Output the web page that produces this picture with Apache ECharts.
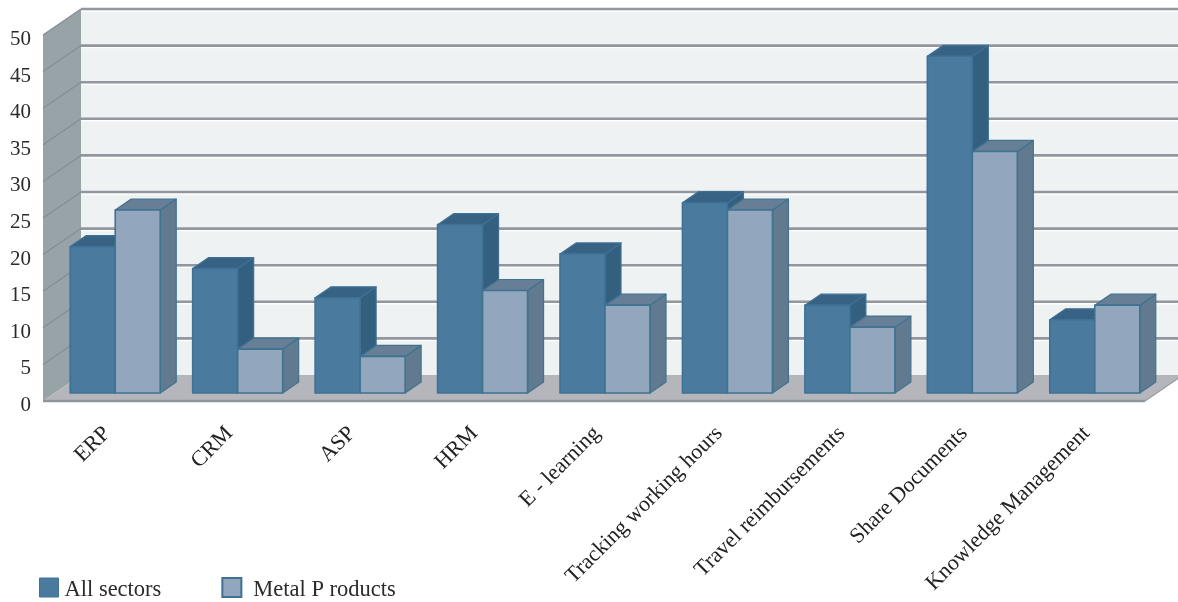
<!DOCTYPE html>
<html><head><meta charset="utf-8">
<style>html,body{margin:0;padding:0;background:#fff}#c{width:1178px;height:602px}</style>
<script src="https://cdn.jsdelivr.net/npm/echarts@6/dist/echarts.min.js"></script>
</head><body><div id="c"></div>
<script>
const categories = ['ERP','CRM','ASP','HRM','E - learning','Tracking working hours','Travel reimbursements','Share Documents','Knowledge Management'];
const allSectors = [20,17,13,23,19,26,12,46,10];
const metalProducts = [25,6,5,14,12,25,9,33,12];
const yTicks = [0,5,10,15,20,25,30,35,40,45,50];

const FONT = '"Liberation Serif"';
const DX = 38, DY = -26;            // chart box depth
const BAR_X = 11, BAR_Y = -8;       // bar front face offset from the front plane
const BAR_DX = 16, BAR_DY = -11;    // bar depth
const BAR_W = 45;

function poly(points, fill, stroke, lw, z2) {
  return {type:'polygon', shape:{points}, z2:z2||0,
    style:{fill, stroke:stroke||null, lineWidth:lw||0, lineJoin:'round'}};
}
function barSeries(name, values, dir, c) {
  return {
    name, type:'custom', coordinateSystem:'cartesian2d', z:3,
    itemStyle:{color:c.front},
    data: values.map((v,i)=>[i,v]),
    encode:{x:0,y:1},
    renderItem(params, api){
      const i = api.value(0), v = api.value(1);
      const base = api.coord([i,0]), top = api.coord([i,v]);
      const x0 = base[0] + BAR_X + (dir<0 ? -BAR_W : 0), x1 = x0 + BAR_W;
      const yb = base[1] + BAR_Y, yt = top[1] + BAR_Y;
      return {type:'group', children:[
        poly([[x1,yb],[x1+BAR_DX,yb+BAR_DY],[x1+BAR_DX,yt+BAR_DY],[x1,yt]], c.side, c.edge, 1.2),
        poly([[x0,yt],[x1,yt],[x1+BAR_DX,yt+BAR_DY],[x0+BAR_DX,yt+BAR_DY]], c.top, c.edge, 1.2),
        poly([[x0,yb],[x1,yb],[x1,yt],[x0,yt]], c.front, c.edge, 1.6)
      ]};
    }
  };
}
const darkC  = {front:'#4a7a9e', top:'#376283', side:'#33607f', edge:'#3f7096'};
const lightC = {front:'#92a7bd', top:'#667e96', side:'#627a90', edge:'#3f7390'};

const chart = echarts.init(document.getElementById('c'));
chart.setOption({
  animation:false,
  backgroundColor:'#fff',
  grid:{left:43, right:33, top:35, bottom:201},
  legend:{
    left:34, top:572, itemWidth:19, itemHeight:19, itemGap:60, icon:'rect',
    formatter:n=>n==='All sectors' ? `{a|${n}}` : `{b|${n}}`,
    textStyle:{fontFamily:FONT, fontSize:22.5, color:'#2b2b2b',
      rich:{
        a:{fontFamily:FONT, fontSize:22.5, color:'#2b2b2b', padding:[6,0,0,1]},
        b:{fontFamily:FONT, fontSize:22.5, color:'#2b2b2b', padding:[6,0,0,7]}
      }},
    data:[
      {name:'All sectors', itemStyle:{color:darkC.front, borderColor:darkC.edge, borderWidth:1}},
      {name:'Metal P roducts', itemStyle:{color:lightC.front, borderColor:darkC.edge, borderWidth:2}}
    ]
  },
  xAxis:{type:'category', data:categories,
    axisLine:{show:false}, axisTick:{show:false}, splitLine:{show:false},
    axisLabel:{rotate:45, interval:0, margin:32, padding:[0,-4,0,0], fontFamily:FONT, fontSize:22, color:'#222'}},
  yAxis:{type:'value', min:0, max:50, interval:5,
    axisLine:{show:false}, axisTick:{show:false}, splitLine:{show:false},
    axisLabel:{margin:12, verticalAlign:'top', lineHeight:9, fontFamily:FONT, fontSize:21, color:'#2b2b2b',
      formatter:v=>yTicks.includes(v)?String(v):''}},
  series:[
    {
      type:'custom', coordinateSystem:'cartesian2d', z:1, silent:true,
      data: yTicks.map(v=>[0,v]),
      encode:{y:1},
      renderItem(params, api){
        const cs = params.coordSys, v = api.value(1);
        const y = api.coord([0,v])[1];
        const L = cs.x, R = cs.x + cs.width;
        const out = [];
        if (v === 0) {
          const T = cs.y, B = cs.y + cs.height;
          out.push(poly([[L+DX,T+DY],[R+DX,T+DY],[R+DX,B+DY],[L+DX,B+DY]], '#eff2f2'));
          out.push(poly([[L,T],[L+DX,T+DY],[L+DX,B+DY],[L,B]], '#98a3a8'));
          out.push(poly([[L,B],[L+DX,B+DY],[R+DX,B+DY],[R,B]], '#b5b6bb', null, 0, 5));
          out.push({type:'line', z2:6, shape:{x1:L,y1:B,x2:R,y2:B}, style:{stroke:'#8f979c', lineWidth:2.5}});
          out.push({type:'line', z2:6, shape:{x1:R,y1:B,x2:R+DX,y2:B+DY}, style:{stroke:'#9aa0a5', lineWidth:1.5}});
        } else {
          out.push({type:'line', z2:2, shape:{x1:L+DX,y1:y+DY+2,x2:R+DX,y2:y+DY+2}, style:{stroke:'#ffffff', lineWidth:1.5}});
          out.push({type:'line', z2:3, shape:{x1:L+DX,y1:y+DY,x2:R+DX,y2:y+DY}, style:{stroke:'#92969f', lineWidth:2.6}});
          out.push({type:'line', z2:3, shape:{x1:L,y1:y,x2:L+DX,y2:y+DY}, style:{stroke:'#838d94', lineWidth:1.2}});
        }
        return {type:'group', children:out};
      }
    },
    barSeries('All sectors', allSectors, -1, darkC),
    barSeries('Metal P roducts', metalProducts, 1, lightC)
  ]
});
</script></body></html>
